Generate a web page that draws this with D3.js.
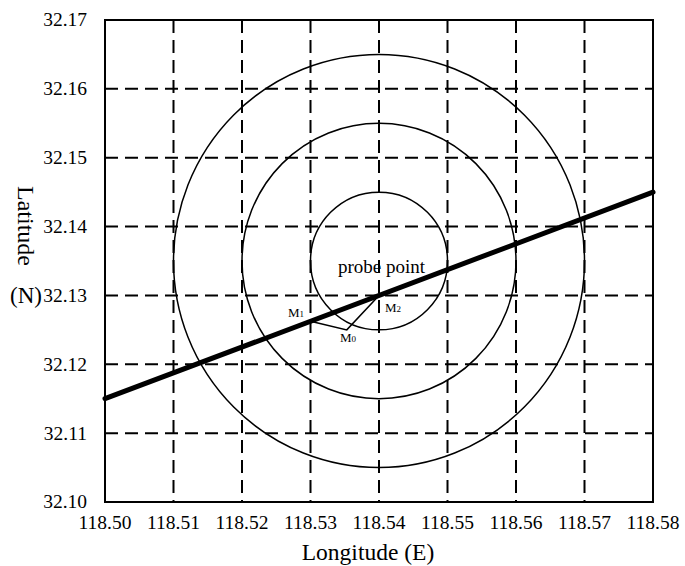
<!DOCTYPE html>
<html>
<head>
<meta charset="utf-8">
<script src="https://cdn.jsdelivr.net/npm/d3@7"></script>
<style>
  body { margin: 0; background: #fff; }
  text { font-family: "Liberation Serif", "DejaVu Serif", "Times New Roman", Times, serif; fill: #000; }
</style>
</head>
<body>
<svg id="chart" width="685" height="566"></svg>
<script>
// tick values
const lonTicks = [118.50, 118.51, 118.52, 118.53, 118.54, 118.55, 118.56, 118.57, 118.58];
const latTicks = [32.10, 32.11, 32.12, 32.13, 32.14, 32.15, 32.16, 32.17];

// probe point and detection rings (degrees)
const probe = [118.54, 32.135];
const ringRadii = [0.01, 0.02, 0.03];

// track line ends
const trackLon = [118.50, 118.58];
const trackLat = [32.115, 32.145];

// labelled points M1, M0, M2
const mNames = ['1', '0', '2'];
const mLon = [118.53, 118.5353, 118.54];
const mLat = [32.12625, 32.125, 32.13];

const svg = d3.select('#chart');
const margin = { left: 105, right: 32, top: 20, bottom: 64 };
const width = 685 - margin.left - margin.right;
const height = 566 - margin.top - margin.bottom;

const x = d3.scaleLinear().domain([118.50, 118.58]).range([margin.left, margin.left + width]);
const y = d3.scaleLinear().domain([32.10, 32.17]).range([margin.top + height, margin.top]);

// dashed grid
const grid = svg.append('g')
  .attr('stroke', '#000')
  .attr('stroke-width', 2)
  .attr('stroke-dasharray', '13,7');

grid.selectAll('line.v')
  .data(lonTicks.slice(1, -1))
  .enter()
  .append('line')
  .attr('x1', (d) => x(d))
  .attr('x2', (d) => x(d))
  .attr('y1', y(32.17))
  .attr('y2', y(32.10));

grid.selectAll('line.h')
  .data(latTicks.slice(1, -1))
  .enter()
  .append('line')
  .attr('x1', x(118.50))
  .attr('x2', x(118.58))
  .attr('y1', (d) => y(d))
  .attr('y2', (d) => y(d));

// rings
svg.append('g')
  .selectAll('ellipse')
  .data(ringRadii)
  .enter()
  .append('ellipse')
  .attr('cx', x(probe[0]))
  .attr('cy', y(probe[1]))
  .attr('rx', (d) => x(probe[0] + d) - x(probe[0]))
  .attr('ry', (d) => y(probe[1]) - y(probe[1] + d))
  .attr('fill', 'none')
  .attr('stroke', '#000')
  .attr('stroke-width', 1.5);

// M1 - M0 - M2 polyline
const pts = mLon.map((d, i) => [x(d), y(mLat[i])]);
svg.append('path')
  .attr('d', d3.line()(pts))
  .attr('fill', 'none')
  .attr('stroke', '#000')
  .attr('stroke-width', 1.5);

// track
svg.append('line')
  .attr('x1', x(trackLon[0]))
  .attr('y1', y(trackLat[0]))
  .attr('x2', x(trackLon[1]))
  .attr('y2', y(trackLat[1]))
  .attr('stroke', '#000')
  .attr('stroke-width', 5)
  .attr('stroke-linecap', 'round');

// frame
svg.append('rect')
  .attr('x', x(118.50))
  .attr('y', y(32.17))
  .attr('width', width)
  .attr('height', height)
  .attr('fill', 'none')
  .attr('stroke', '#000')
  .attr('stroke-width', 2);

// tick labels
svg.append('g')
  .selectAll('text')
  .data(lonTicks)
  .enter()
  .append('text')
  .attr('x', (d) => x(d))
  .attr('y', 529)
  .attr('text-anchor', 'middle')
  .style('font-size', '19.5px')
  .text((d) => d.toFixed(2));

svg.append('g')
  .selectAll('text')
  .data(latTicks)
  .enter()
  .append('text')
  .attr('x', 87)
  .attr('y', (d) => y(d))
  .attr('dy', '0.33em')
  .attr('text-anchor', 'end')
  .style('font-size', '19.5px')
  .text((d) => d.toFixed(2));

// axis titles
svg.append('text')
  .attr('x', 368)
  .attr('y', 560)
  .attr('text-anchor', 'middle')
  .style('font-size', '23.5px')
  .text('Longitude (E)');

svg.append('text')
  .attr('transform', 'translate(18,226) rotate(90)')
  .attr('text-anchor', 'middle')
  .style('font-size', '24px')
  .text('Latitude');

svg.append('text')
  .attr('x', 10)
  .attr('y', y(32.13))
  .attr('dy', '0.33em')
  .style('font-size', '23px')
  .text('(N)');

// probe point label
svg.append('text')
  .attr('x', 338)
  .attr('y', 273)
  .style('font-size', '19px')
  .text('probe point');

// M labels
const mPos = [[288, 317], [340, 342], [385, 312]];
mNames.forEach((n, i) => {
  const t = svg.append('text')
    .attr('x', mPos[i][0])
    .attr('y', mPos[i][1])
    .style('font-size', '13px');
  t.append('tspan').text('M');
  t.append('tspan').style('font-size', '9px').text(n);
});
</script>
</body>
</html>
